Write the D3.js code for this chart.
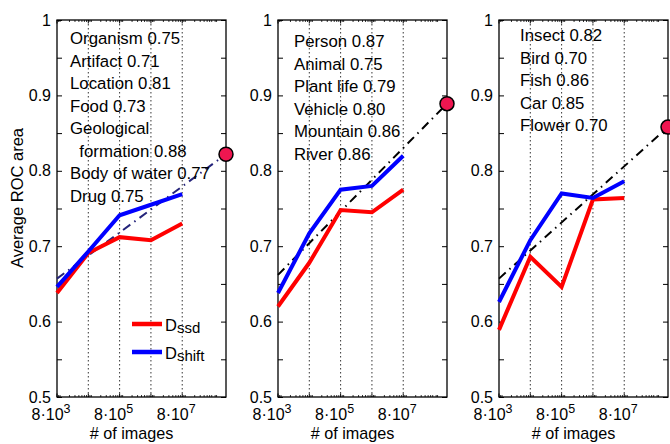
<!DOCTYPE html>
<html>
<head>
<meta charset="utf-8">
<script src="https://cdn.jsdelivr.net/npm/d3@7"></script>
<style>
  body { margin: 0; background: #fff; }
  svg { font-family: "Liberation Sans", Arial, sans-serif; }
  .note { font-size: 16.8px; white-space: pre; }
  .tick text { font-size: 16px; }
  .domain { display: none; }
</style>
</head>
<body>
<div id="chart"></div>
<script>
  // image counts used for training (x), one entry per point
  var imageCounts = [8e3, 8e4, 8e5, 8e6, 8e7];
  var xMax = 2e9;

  // average ROC area per panel
  var ssdValues = [
    [0.638, 0.691, 0.712, 0.708, 0.730],
    [0.620, 0.678, 0.748, 0.745, 0.775],
    [0.589, 0.686, 0.646, 0.762, 0.764]
  ];
  var shiftValues = [
    [0.646, 0.693, 0.741, 0.755, 0.769],
    [0.638, 0.717, 0.775, 0.780, 0.820],
    [0.626, 0.708, 0.770, 0.764, 0.786]
  ];

  // extrapolated fit: value at 8e3 and value at xMax (red dot)
  var fitStart = [0.657, 0.662, 0.657];
  var fitEnd = [0.822, 0.889, 0.858];
  var fitColors = ["#24237a", "#000", "#000"];

  var categoryNotes = [
    ["Organism 0.75", "Artifact 0.71", "Location 0.81", "Food 0.73", "Geological",
     "  formation 0.88", "Body of water 0.77", "Drug 0.75"],
    ["Person 0.87", "Animal 0.75", "Plant life 0.79", "Vehicle 0.80", "Mountain 0.86", "River 0.86"],
    ["Insect 0.82", "Bird 0.70", "Fish 0.86", "Car 0.85", "Flower 0.70"]
  ];
  var noteTop = [44, 47, 41];
  var noteLeft = [13, 16, 21];

  var labelTicks = [8e3, 8e5, 8e7];
  var labelExp = ["3", "5", "7"];

  var W = 670, H = 444;
  var panelLeft = [57, 278, 499], panelTop = 20, pw = 169, ph = 377;

  var svg = d3.select("#chart").append("svg")
    .attr("width", W).attr("height", H);

  var x = d3.scaleLog().domain([imageCounts[0], xMax]).range([0, pw]);
  var y = d3.scaleLinear().domain([0.5, 1]).range([ph, 0]);

  var yTicks = d3.range(0.5, 1.001, 0.05).map(function(v) { return +v.toFixed(2); });
  var minorX = [];
  for (var e = 3; e <= 9; e++) {
    for (var n = 1; n <= 9; n++) {
      var v = n * Math.pow(10, e);
      if (v > imageCounts[0] && v < xMax && n != 8) minorX.push(v);
    }
  }

  var line = d3.line()
    .x(function(d) { return x(d[0]); })
    .y(function(d) { return y(d[1]); });

  panelLeft.forEach(function(left, i) {
    var g = svg.append("g").attr("transform", "translate(" + left + "," + panelTop + ")");

    // dotted decade lines
    g.selectAll(".grid").data(imageCounts.slice(1)).enter().append("line")
      .attr("x1", function(d) { return x(d); }).attr("x2", function(d) { return x(d); })
      .attr("y1", 0).attr("y2", ph)
      .attr("stroke", "#000").attr("stroke-width", 0.8)
      .attr("stroke-dasharray", "1.5,2.5");

    // y axes (ticks inward)
    var yl = g.append("g").call(d3.axisLeft(y).tickValues(yTicks).tickSizeInner(-5).tickSizeOuter(0).tickPadding(6)
      .tickFormat(function(d) { return Math.round(d * 100) % 10 == 0 ? d3.format("")(d) : ""; }));
    yl.selectAll("line").attr("stroke-width", 1);
    g.append("g").attr("transform", "translate(" + pw + ",0)")
      .call(d3.axisRight(y).tickValues(yTicks).tickSizeInner(-5).tickSizeOuter(0).tickFormat(""));

    // x ticks top and bottom
    [0, ph].forEach(function(yy) {
      var dir = yy == 0 ? 1 : -1;
      g.selectAll(null).data(imageCounts).enter().append("line")
        .attr("x1", function(d) { return x(d); }).attr("x2", function(d) { return x(d); })
        .attr("y1", yy).attr("y2", yy + dir * 3.5).attr("stroke", "#000");
      g.selectAll(null).data(minorX).enter().append("line")
        .attr("x1", function(d) { return x(d); }).attr("x2", function(d) { return x(d); })
        .attr("y1", yy).attr("y2", yy + dir * 2).attr("stroke", "#000").attr("stroke-width", 0.8);
    });

    // frame
    g.append("rect").attr("width", pw).attr("height", ph)
      .attr("fill", "none").attr("stroke", "#000").attr("stroke-width", 1.3);

    // x tick labels
    labelTicks.forEach(function(t, k) {
      var tx = g.append("text").attr("x", x(t) - 6).attr("y", ph + 23)
        .attr("text-anchor", "middle").attr("font-size", "16px");
      tx.append("tspan").text("8\u00b710");
      tx.append("tspan").attr("dy", -7).attr("font-size", "12.5px").text(labelExp[k]);
    });
    g.append("text").attr("x", pw / 2 - 10).attr("y", ph + 42)
      .attr("text-anchor", "middle").attr("font-size", "16.2px").text("# of images");

    // fit line and red dot
    var fit = [[imageCounts[0], fitStart[i]], [xMax, fitEnd[i]]];
    g.append("path").attr("d", line(fit))
      .attr("fill", "none").attr("stroke", fitColors[i]).attr("stroke-width", 2)
      .attr("stroke-dasharray", "9,5,1.5,5");

    // data lines
    [[ssdValues[i], "#ff0000"], [shiftValues[i], "#0000ff"]].forEach(function(s) {
      g.append("path").attr("d", line(imageCounts.map(function(c, k) { return [c, s[0][k]]; })))
        .attr("fill", "none").attr("stroke", s[1]).attr("stroke-width", 4)
        .attr("stroke-linejoin", "miter");
    });

    g.append("circle").attr("cx", x(xMax)).attr("cy", y(fitEnd[i])).attr("r", 7)
      .attr("fill", "#ee1650").attr("stroke", "#000").attr("stroke-width", 1.5);

    // category notes
    g.selectAll(".note").data(categoryNotes[i]).enter().append("text")
      .attr("class", "note")
      .attr("x", noteLeft[i]).attr("y", function(d, k) { return noteTop[i] - panelTop + k * 22.5; })
      .text(function(d) { return d; });
  });

  // y label
  svg.append("text").attr("transform", "translate(23,198) rotate(-90)")
    .attr("text-anchor", "middle").attr("font-size", "16.5px").text("Average ROC area");

  // legend
  var legend = svg.append("g").attr("transform", "translate(132,0)");
  [["ssd", "#ff0000", 324], ["shift", "#0000ff", 352]].forEach(function(l) {
    legend.append("line").attr("x1", 0).attr("x2", 30).attr("y1", l[2]).attr("y2", l[2])
      .attr("stroke", l[1]).attr("stroke-width", 4.5);
    var t = legend.append("text").attr("x", 33).attr("y", l[2] + 7).attr("font-size", "16.5px");
    t.append("tspan").text("D");
    t.append("tspan").attr("dy", 2).attr("font-size", "15px").text(l[0]);
  });
</script>
</body>
</html>
